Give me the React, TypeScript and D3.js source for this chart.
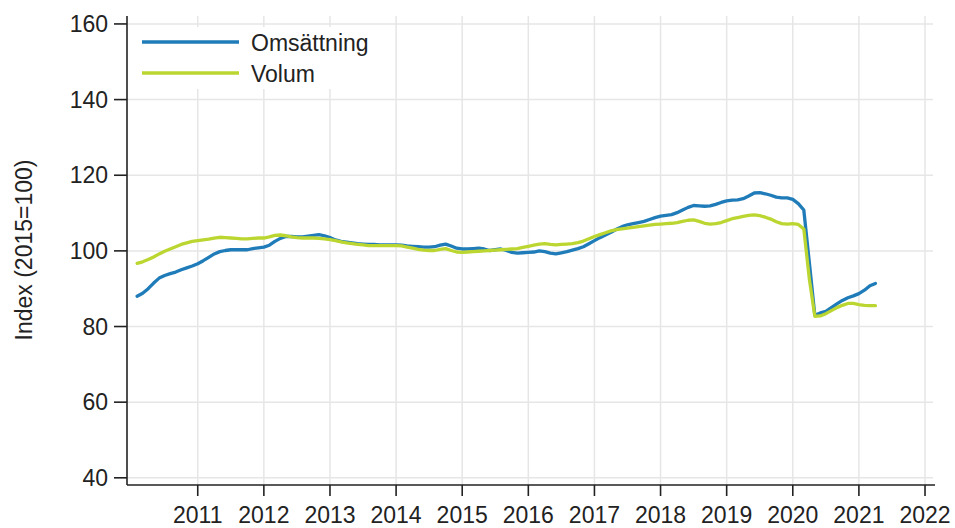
import { useEffect, useRef } from "react";
import * as d3 from "d3";

// monthly series, Jan 2010 .. Mar 2021
const startYear = 2010;
const seriesNames = ["Omsättning", "Volum"];
const seriesColors = ["#1f7cb9", "#bcd631"];

const omsattning = [
  88.0, 88.8, 90.0, 91.5, 92.8, 93.5, 94.0, 94.4, 95.0, 95.5, 96.0, 96.6,
  97.4, 98.3, 99.2, 99.8, 100.1, 100.3, 100.3, 100.3, 100.3, 100.6, 100.8, 101.0,
  101.5, 102.5, 103.3, 103.8, 103.8, 103.7, 103.7, 103.9, 104.1, 104.3, 104.0, 103.5,
  102.9, 102.5, 102.3, 102.1, 101.9, 101.8, 101.7, 101.7, 101.6, 101.6, 101.6, 101.6,
  101.5, 101.3, 101.2, 101.1, 101.0, 101.0, 101.1, 101.5, 101.8, 101.3, 100.7, 100.5,
  100.5, 100.6, 100.7, 100.5, 100.1, 100.3, 100.5, 100.1, 99.6, 99.4, 99.5, 99.6,
  99.7, 100.0, 99.8, 99.4, 99.2, 99.5, 99.8, 100.2, 100.6, 101.1, 101.9, 102.7,
  103.5, 104.2, 104.9, 105.7, 106.4, 106.9, 107.2, 107.5, 107.8, 108.3, 108.8, 109.2,
  109.4, 109.6, 110.1, 110.8, 111.5, 112.0, 111.9, 111.8, 111.9, 112.3, 112.8, 113.2,
  113.4, 113.5, 113.8, 114.5, 115.3, 115.4, 115.1, 114.7, 114.2, 114.0, 114.0, 113.6,
  112.5, 110.8, 97.0, 83.0, 83.6, 84.0, 85.0, 86.0, 86.9, 87.6, 88.1, 88.7,
  89.6, 90.8, 91.4,
];

const volum = [
  96.7, 97.1, 97.7, 98.4, 99.2, 99.9, 100.5, 101.1, 101.7, 102.1, 102.5, 102.7,
  102.9, 103.1, 103.4, 103.6, 103.5, 103.4, 103.3, 103.2, 103.2, 103.3, 103.4, 103.4,
  103.7, 104.1, 104.2, 104.0, 103.7, 103.5, 103.4, 103.4, 103.4, 103.3, 103.2, 103.0,
  102.7, 102.4, 102.1, 101.9, 101.7, 101.6, 101.4, 101.4, 101.4, 101.4, 101.4, 101.4,
  101.3, 101.0, 100.7, 100.4, 100.2, 100.1, 100.1, 100.4, 100.6, 100.1, 99.7, 99.6,
  99.7, 99.8, 99.9, 100.0, 100.1, 100.2, 100.3, 100.4, 100.5, 100.6, 100.9, 101.2,
  101.5, 101.8, 101.9, 101.7, 101.6, 101.7, 101.8, 101.9, 102.2, 102.6, 103.2, 103.8,
  104.3, 104.8, 105.3, 105.6, 105.8, 106.0, 106.2, 106.4, 106.6, 106.8, 107.0, 107.1,
  107.2, 107.3, 107.5, 107.8, 108.1, 108.2, 107.8, 107.3, 107.1, 107.2, 107.5, 108.0,
  108.5, 108.8, 109.1, 109.4, 109.5, 109.3, 108.9, 108.4, 107.7, 107.2, 107.1, 107.2,
  107.0, 105.8, 92.6, 82.7, 82.8, 83.4, 84.2, 85.0, 85.6, 86.1, 86.1, 85.8,
  85.6, 85.5, 85.5,
];

const yearTicks = [2011, 2012, 2013, 2014, 2015, 2016, 2017, 2018, 2019, 2020, 2021, 2022];
const valueTicks = [40, 60, 80, 100, 120, 140, 160];
const yLabel = "Index (2015=100)";

const width = 955;
const height = 528;
const font = "'Liberation Sans', Arial, sans-serif";

export default function App() {
  const ref = useRef<SVGSVGElement>(null);

  useEffect(() => {
    if (!ref.current) return;
    const svg = d3.select(ref.current);
    svg.selectAll("*").remove();

    const left = 127;
    const right = 935;
    const top = 16;
    const bottom = 485;

    const x = d3.scaleLinear().domain([2009.93, 2022.151]).range([left, right]);
    const y = d3.scaleLinear().domain([38.1, 162.1]).range([bottom, top]);

    // gridlines
    const grid = svg.append("g").attr("stroke", "#e6e6e6").attr("stroke-width", 1.5);
    valueTicks.forEach((v) => {
      grid.append("line").attr("x1", left).attr("x2", right - 2)
        .attr("y1", y(v)).attr("y2", y(v));
    });
    yearTicks.forEach((t) => {
      grid.append("line").attr("x1", x(t)).attr("x2", x(t))
        .attr("y1", top).attr("y2", bottom);
    });

    // series
    const line = d3.line<number>()
      .x((_, i) => x(startYear + (i + 1) / 12))
      .y((d) => y(d));

    [omsattning, volum].forEach((s, k) => {
      svg.append("path")
        .datum(s)
        .attr("d", line)
        .attr("fill", "none")
        .attr("stroke", seriesColors[k])
        .attr("stroke-width", 3.3)
        .attr("stroke-linejoin", "round")
        .attr("stroke-linecap", "round");
    });

    // legend
    svg.append("rect").attr("x", left + 2).attr("y", 27)
      .attr("width", 258).attr("height", 62).attr("fill", "#fff");
    seriesNames.forEach((name, k) => {
      const ly = 42 + k * 31;
      svg.append("line").attr("x1", 142).attr("x2", 239)
        .attr("y1", ly).attr("y2", ly)
        .attr("stroke", seriesColors[k]).attr("stroke-width", 3.3);
      svg.append("text").attr("x", 251).attr("y", ly + 8.5)
        .attr("font-family", font).attr("font-size", 23).attr("fill", "#222")
        .text(name);
    });

    // axes
    const axes = svg.append("g").attr("stroke", "#222").attr("stroke-width", 1.6);
    axes.append("line").attr("x1", left).attr("x2", left).attr("y1", top).attr("y2", bottom);
    axes.append("line").attr("x1", left).attr("x2", right).attr("y1", bottom).attr("y2", bottom);
    valueTicks.forEach((v) => {
      axes.append("line").attr("x1", left - 13).attr("x2", left).attr("y1", y(v)).attr("y2", y(v));
      svg.append("text").attr("x", 108).attr("y", y(v) + 8)
        .attr("text-anchor", "end").attr("font-family", font).attr("font-size", 23)
        .attr("fill", "#222").text(v);
    });
    yearTicks.forEach((t) => {
      axes.append("line").attr("x1", x(t)).attr("x2", x(t)).attr("y1", bottom).attr("y2", bottom + 11);
      svg.append("text").attr("x", x(t)).attr("y", 523)
        .attr("text-anchor", "middle").attr("font-family", font).attr("font-size", 23)
        .attr("fill", "#222").text(t);
    });

    svg.append("text")
      .attr("transform", `translate(32,250) rotate(-90)`)
      .attr("text-anchor", "middle").attr("font-family", font).attr("font-size", 23)
      .attr("fill", "#222").text(yLabel);
  }, []);

  return (
    <svg
      ref={ref}
      width={width}
      height={height}
      style={{ position: "absolute", left: 0, top: 0, background: "#fff" }}
    />
  );
}
